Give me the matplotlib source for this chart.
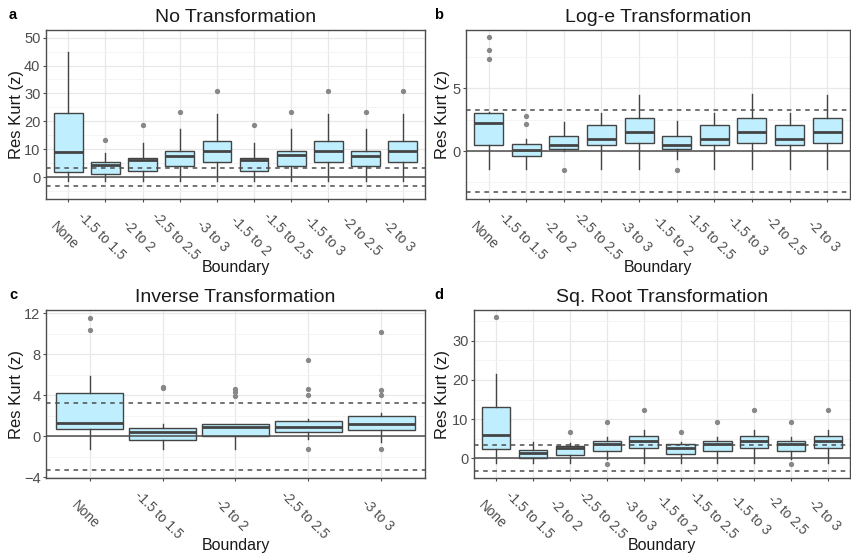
import matplotlib
matplotlib.use('Agg')
import matplotlib.pyplot as plt
from matplotlib.transforms import ScaledTranslation

plt.rcParams['font.family'] = ['Liberation Sans', 'DejaVu Sans']

labels10 = ['None', '-1.5 to 1.5', '-2 to 2', '-2.5 to 2.5', '-3 to 3',
            '-1.5 to 2', '-1.5 to 2.5', '-1.5 to 3', '-2 to 2.5', '-2 to 3']
labels5 = labels10[:5]

# a: no transformation
a_q1 = [2.0, 1.0, 2.4, 4.2, 5.4, 2.4, 4.2, 5.4, 4.2, 5.4]
a_med = [9.2, 4.4, 6.1, 7.7, 9.5, 6.2, 7.8, 9.5, 7.7, 9.5]
a_q3 = [23.1, 5.4, 6.9, 9.3, 12.9, 6.9, 9.3, 13.0, 9.3, 12.9]
a_lo = [-1.2, -1.2, -1.2, -1.2, -1.2, -1.2, -1.2, -1.2, -1.2, -1.2]
a_hi = [44.9, 8.6, 12.3, 17.2, 22.8, 12.3, 17.2, 22.8, 17.2, 22.8]
a_out = [[], [13.2], [18.6], [23.5], [30.9], [18.6], [23.5], [30.9], [23.5], [30.9]]

# b: log-e transformation
b_q1 = [0.48, -0.37, 0.13, 0.45, 0.64, 0.19, 0.45, 0.64, 0.45, 0.64]
b_med = [2.22, 0.05, 0.48, 0.99, 1.52, 0.48, 0.99, 1.52, 0.99, 1.52]
b_q3 = [3.02, 0.59, 1.2, 2.06, 2.62, 1.2, 2.06, 2.62, 2.06, 2.62]
b_lo = [-1.42, -1.42, 0.0, -1.42, -1.42, -0.67, -1.42, -1.42, -1.42, -1.42]
b_hi = [3.1, 0.94, 2.3, 3.02, 4.44, 2.4, 3.02, 4.5, 3.02, 4.47]
b_out = [[7.33, 8.07, 9.06], [2.14, 2.8], [-1.47], [], [], [-1.47], [], [], [], []]

# c: inverse transformation
c_q1 = [0.71, -0.38, 0.06, 0.45, 0.64]
c_med = [1.31, 0.45, 0.93, 0.96, 1.22]
c_q3 = [4.26, 0.83, 1.22, 1.5, 1.96]
c_lo = [-1.22, -1.22, -1.22, -0.26, -0.51]
c_hi = [5.93, 1.19, 1.22, 1.67, 2.24]
c_out = [[10.38, 11.54], [4.75, 4.81], [3.97, 4.36, 4.6],
         [-1.22, 4.07, 4.58, 7.44], [-1.25, 4.01, 4.52, 10.13]]

# d: square root transformation
d_q1 = [2.2, 0.1, 0.85, 1.8, 2.65, 0.94, 1.8, 2.65, 1.8, 2.65]
d_med = [5.9, 1.37, 2.48, 3.68, 4.44, 2.65, 3.68, 4.44, 3.68, 4.44]
d_q3 = [13.1, 2.05, 3.08, 4.27, 5.73, 3.5, 4.27, 5.73, 4.27, 5.73]
d_lo = [-1.2, -1.2, -1.2, -0.3, -1.2, -1.2, -1.2, -1.2, -0.3, -1.2]
d_hi = [21.5, 4.1, 3.9, 5.4, 7.2, 4.0, 5.4, 7.2, 5.4, 7.2]
d_out = [[36.2], [], [6.75], [-1.45, 9.15], [12.4], [6.67], [9.15], [12.4], [-1.45, 9.15], [12.4]]

crit = 3.29

BOX_FILL = '#bfefff'
LINE = '#444444'
GRID = '#e8e8e8'


def make_stats(q1, med, q3, lo, hi, out):
    stats = []
    for i in range(len(q1)):
        stats.append({'q1': q1[i], 'med': med[i], 'q3': q3[i],
                      'whislo': lo[i], 'whishi': hi[i], 'fliers': out[i]})
    return stats


def draw_panel(ax, labels, stats, title, letter, ylim, yticks, minor, width, ylab_px):
    n = len(labels)
    pos = list(range(1, n + 1))
    ax.bxp(stats, positions=pos, widths=width, patch_artist=True, showcaps=False,
           boxprops=dict(facecolor=BOX_FILL, edgecolor=LINE, linewidth=1.0),
           medianprops=dict(color=LINE, linewidth=2.0),
           whiskerprops=dict(color=LINE, linewidth=1.0),
           flierprops=dict(marker='o', markersize=2.8, markerfacecolor='#888888',
                           markeredgecolor='#888888', linestyle='none'),
           zorder=3)
    ax.axhline(0, color='#4d4d4d', linewidth=1.1, zorder=4)
    ax.axhline(crit, color='#4d4d4d', linewidth=1.1, linestyle=(0, (3, 3)), zorder=4)
    ax.axhline(-crit, color='#4d4d4d', linewidth=1.1, linestyle=(0, (3, 3)), zorder=4)

    ax.set_xlim(0.4, n + 0.6)
    ax.set_ylim(*ylim)
    ax.set_yticks(yticks)
    ax.set_yticks(minor, minor=True)
    ax.set_xticks(pos)
    ax.set_xticklabels(labels)
    ax.grid(True, which='major', color=GRID, linewidth=0.9, zorder=0)
    ax.grid(True, which='minor', axis='y', color='#f2f2f2', linewidth=0.6, zorder=0)
    ax.set_axisbelow(True)

    ax.tick_params(axis='both', which='major', length=2.5, width=0.8, color='#4d4d4d',
                   labelcolor='#4d4d4d')
    ax.tick_params(axis='y', which='major', labelsize=10.5, pad=1.5)
    ax.tick_params(axis='y', which='minor', length=0)
    ax.tick_params(axis='x', pad=24, labelsize=9.8)
    shift = ScaledTranslation(-4 / 100, 0, ax.figure.dpi_scale_trans)
    for lab in ax.get_xticklabels():
        lab.set_rotation(-45)
        lab.set_ha('center')
        lab.set_va('center')
        lab.set_rotation_mode('anchor')
        lab.set_transform(lab.get_transform() + shift)

    for sp in ax.spines.values():
        sp.set_color('#4d4d4d')
        sp.set_linewidth(1.0)

    w_px = ax.get_position().width * 851
    ax.set_title(title, fontsize=14, pad=6, color='#1a1a1a')
    ax.set_ylabel('Res Kurt (z)', fontsize=12, color='#1a1a1a')
    ax.yaxis.set_label_coords(-ylab_px / w_px, 0.5)
    ax.yaxis.label.set_va('center')
    ax.set_xlabel('Boundary', fontsize=11.5, color='#1a1a1a')
    ax.xaxis.set_label_coords(0.5, -0.36)
    ax.text(-(ylab_px + 8) / w_px, 1.09, letter, transform=ax.transAxes, fontsize=10.5,
            fontweight='bold', va='center', ha='left')


fig = plt.figure(figsize=(8.51, 5.56), dpi=100)
ax_a = fig.add_axes([0.054, 0.642, 0.4454, 0.304])
ax_b = fig.add_axes([0.5476, 0.642, 0.451, 0.304])
ax_c = fig.add_axes([0.054, 0.1403, 0.4454, 0.302])
ax_d = fig.add_axes([0.557, 0.1403, 0.442, 0.302])

draw_panel(ax_a, labels10, make_stats(a_q1, a_med, a_q3, a_lo, a_hi, a_out),
           'No Transformation', 'a', (-7.8, 52.7), [0, 10, 20, 30, 40, 50],
           [-5, 5, 15, 25, 35, 45], 0.77, 29)
draw_panel(ax_b, labels10, make_stats(b_q1, b_med, b_q3, b_lo, b_hi, b_out),
           'Log-e Transformation', 'b', (-3.82, 9.63), [0, 5],
           [-2.5, 2.5, 7.5], 0.77, 24)
draw_panel(ax_c, labels5, make_stats(c_q1, c_med, c_q3, c_lo, c_hi, c_out),
           'Inverse Transformation', 'c', (-4.05, 12.3), [-4, 0, 4, 8, 12],
           [-2, 2, 6, 10], 0.92, 29)
draw_panel(ax_d, labels10, make_stats(d_q1, d_med, d_q3, d_lo, d_hi, d_out),
           'Sq. Root Transformation', 'd', (-5.1, 37.9), [0, 10, 20, 30],
           [-5, 5, 15, 25, 35], 0.77, 32)

fig.savefig('out.png', dpi=100, facecolor='white')
